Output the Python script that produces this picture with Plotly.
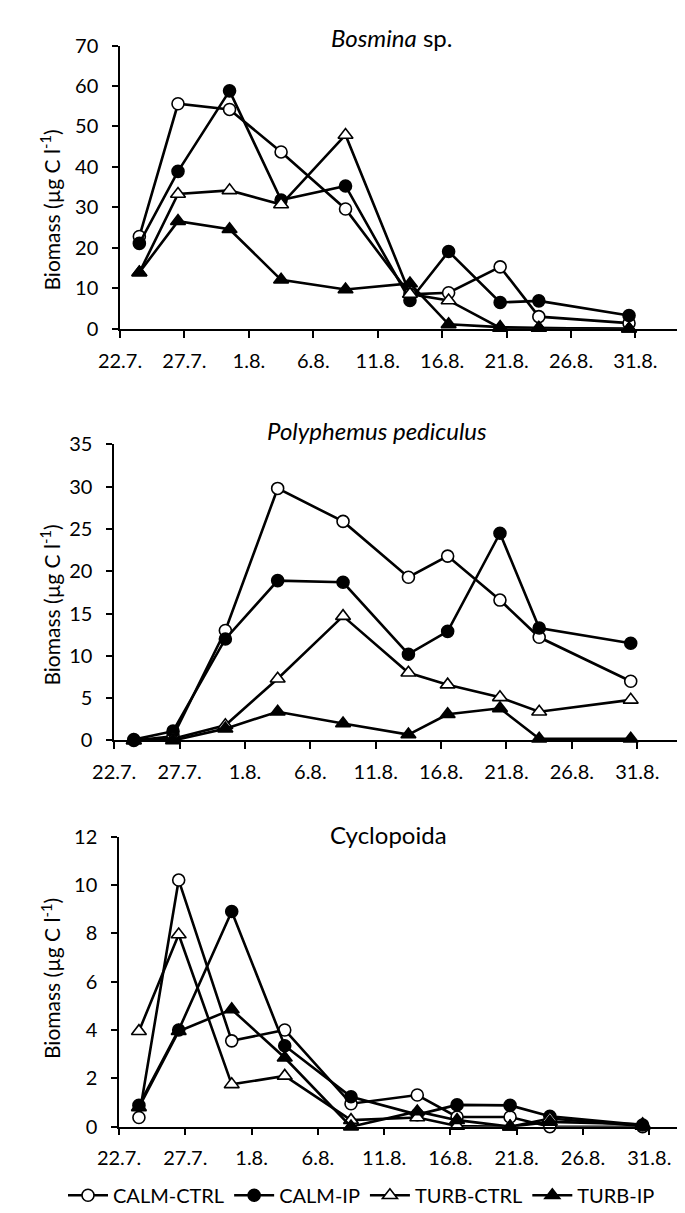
import plotly.graph_objects as go
import pandas as pd

# ---------------- data ----------------
dates = ["2011-07-23", "2011-07-26", "2011-07-30", "2011-08-03", "2011-08-08",
         "2011-08-13", "2011-08-16", "2011-08-20", "2011-08-23", "2011-08-30"]
series_names = ["CALM-CTRL", "CALM-IP", "TURB-CTRL", "TURB-IP"]

bosmina_calm_ctrl = [22.8, 55.6, 54.2, 43.7, 29.6, 8.5, 8.9, 15.3, 3.0, 1.4]
bosmina_calm_ip = [21.1, 38.9, 58.8, 31.8, 35.3, 7.0, 19.1, 6.5, 6.9, 3.3]
bosmina_turb_ctrl = [13.9, 33.3, 34.2, 30.7, 47.9, 8.6, 7.0, 0.2, 0.2, 0.0]
bosmina_turb_ip = [13.9, 26.6, 24.6, 12.1, 9.7, 11.2, 1.1, 0.4, 0.2, 0.0]

polyph_calm_ctrl = [0.0, 0.5, 13.0, 29.8, 25.9, 19.3, 21.8, 16.6, 12.2, 7.0]
polyph_calm_ip = [0.1, 1.1, 12.0, 18.9, 18.7, 10.2, 12.9, 24.5, 13.3, 11.5]
polyph_turb_ctrl = [0.0, 0.2, 1.8, 7.3, 14.7, 8.0, 6.6, 5.1, 3.4, 4.8]
polyph_turb_ip = [0.0, 0.0, 1.4, 3.4, 2.0, 0.7, 3.1, 3.8, 0.2, 0.2]

cyclo_calm_ctrl = [0.38, 10.2, 3.55, 4.0, 0.95, 1.31, 0.4, 0.4, 0.0, 0.0]
cyclo_calm_ip = [0.88, 4.0, 8.9, 3.35, 1.24, 0.5, 0.9, 0.88, 0.43, 0.07]
cyclo_turb_ctrl = [3.95, 7.95, 1.75, 2.1, 0.27, 0.38, 0.03, 0.0, 0.34, 0.03]
cyclo_turb_ip = [0.8, 3.95, 4.85, 2.85, 0.0, 0.63, 0.27, 0.0, 0.2, 0.1]

panel_titles = ["<i>Bosmina</i> sp.", "<i>Polyphemus pediculus</i>", "Cyclopoida"]
y_title = "Biomass (µg C l<sup>-1</sup>)"
y_max = [70, 35, 12]
y_dtick = [10, 5, 2]

panels = [
    [bosmina_calm_ctrl, bosmina_calm_ip, bosmina_turb_ctrl, bosmina_turb_ip],
    [polyph_calm_ctrl, polyph_calm_ip, polyph_turb_ctrl, polyph_turb_ip],
    [cyclo_calm_ctrl, cyclo_calm_ip, cyclo_turb_ctrl, cyclo_turb_ip],
]

# ---------------- style ----------------
FONT = "Lato"
W, H = 685, 1213
# Excel date axis "between tick marks": points sit in the middle of their day
x_vals = pd.to_datetime(dates) + pd.Timedelta(hours=12)
x_range = [pd.Timestamp("2011-07-22"), pd.Timestamp("2011-07-22") + pd.Timedelta(days=43.3)]

marker_styles = [
    dict(symbol="circle", size=12, color="white", line=dict(color="black", width=1.6)),
    dict(symbol="circle", size=12, color="black", line=dict(color="black", width=1.6)),
    dict(symbol="triangle-up", size=13, color="white", line=dict(color="black", width=1.6)),
    dict(symbol="triangle-up", size=13, color="black", line=dict(color="black", width=1.6)),
]

# pixel layout of each panel (left, right, top, bottom)
px_boxes = [(93, 669.5, 25, 314), (87, 672, 432, 734), (92, 685, 832, 1128)]
title_pos = [(373, 17), (359, 418), (370, 830)]
ytitle_pos = [(21, 193), (21, 596), (21, 977)]

fig = go.Figure()
layout = dict(
    width=W, height=H,
    margin=dict(l=0, r=0, t=0, b=0),
    paper_bgcolor="white", plot_bgcolor="white",
    font=dict(family=FONT, size=20, color="black"),
    showlegend=True,
    legend=dict(orientation="h", x=0.5, xanchor="center", y=1 - 1198 / H, yanchor="middle",
                font=dict(size=20, family=FONT), itemwidth=40, tracegroupgap=0,
                bgcolor="rgba(0,0,0,0)"),
)
annotations = []

for p in range(3):
    xa = "x" if p == 0 else f"x{p+1}"
    ya = "y" if p == 0 else f"y{p+1}"
    for s in range(4):
        fig.add_trace(go.Scatter(
            x=x_vals, y=panels[p][s], mode="lines+markers", name=series_names[s],
            line=dict(color="black", width=2.6), marker=marker_styles[s],
            xaxis=xa, yaxis=ya, showlegend=(p == 0), legendgroup=series_names[s],
            cliponaxis=False,
        ))
    l, r, t, b = px_boxes[p]
    layout["xaxis" if p == 0 else f"xaxis{p+1}"] = dict(
        domain=[l / W, r / W], anchor=ya, type="date", range=x_range,
        tick0="2011-07-22", dtick=5 * 86400000, tickformat="%-d.%-m.",
        showline=True, linecolor="black", linewidth=1.5,
        ticks="outside", ticklen=7, tickwidth=1.5, tickcolor="black",
        showgrid=False, zeroline=False, ticklabelstandoff=6,
        tickfont=dict(size=20, family=FONT),
    )
    layout["yaxis" if p == 0 else f"yaxis{p+1}"] = dict(
        domain=[1 - b / H, 1 - t / H], anchor=xa, range=[0, y_max[p]],
        dtick=y_dtick[p], tick0=0,
        showline=True, linecolor="black", linewidth=1.5,
        ticks="outside", ticklen=6, tickwidth=1.5, tickcolor="black",
        showgrid=False, zeroline=False, ticklabelstandoff=10,
        tickfont=dict(size=20, family=FONT),
    )
    tx, ty = title_pos[p]
    annotations.append(dict(text=panel_titles[p], xref="paper", yref="paper",
                            x=tx / W, y=1 - ty / H, xanchor="center", yanchor="middle",
                            showarrow=False, font=dict(size=24, family=FONT)))
    yx, yy = ytitle_pos[p]
    annotations.append(dict(text=y_title, xref="paper", yref="paper",
                            x=yx / W, y=1 - yy / H, xanchor="center", yanchor="middle",
                            textangle=-90, showarrow=False, font=dict(size=21, family=FONT)))

layout["annotations"] = annotations
fig.update_layout(**layout)
fig.write_html("out.html")
